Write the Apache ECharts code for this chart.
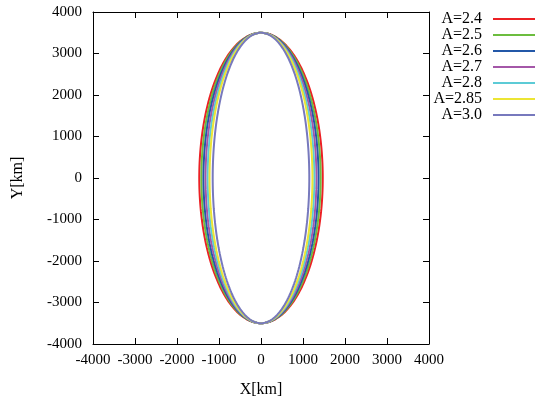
<!DOCTYPE html>
<html>
<head>
<meta charset="utf-8">
<script src="https://cdn.jsdelivr.net/npm/echarts@6/dist/echarts.min.js"></script>
<style>
  html, body { margin: 0; padding: 0; background: #fff; }
  #chart { width: 535px; height: 403px; }
</style>
</head>
<body>
<div id="chart"></div>
<script>
// series: each curve is an ellipse centred at 0,0
const names = ['A=2.4', 'A=2.5', 'A=2.6', 'A=2.7', 'A=2.8', 'A=2.85', 'A=3.0'];
const halfWidthKm = [1470, 1420, 1370, 1320, 1270, 1225, 1150];
const halfHeightKm = [3500, 3500, 3500, 3500, 3500, 3500, 3500];
const colors = ['#ec2024', '#6cbd3f', '#2358a8', '#a457a8', '#5ccbd6', '#ece534', '#7779bd'];
const ticks = [-4000, -3000, -2000, -1000, 0, 1000, 2000, 3000, 4000];

const FONT = 'Liberation Serif';
const STEPS = 240;

const ellipse = (a, b) => {
  let pts = [];
  for (let k = 0; k <= STEPS; k++) {
    let t = (k / STEPS) * Math.PI * 2;
    pts.push([a * Math.sin(t), b * Math.cos(t)]);
  }
  return pts;
};

const axisBase = (extra) => {
  return {
    type: 'value',
    min: ticks[0],
    max: ticks[ticks.length - 1],
    interval: 1000,
    splitLine: { show: false },
    axisLine: { show: true, onZero: false, lineStyle: { color: '#000', width: 1 } },
    axisTick: { show: true, inside: true, length: 6, lineStyle: { color: '#000' } },
    ...extra,
  };
};

const labelStyle = { color: '#000', fontFamily: FONT, fontSize: 15 };

let series = names.map((n, i) => {
  return {
    name: n,
    type: 'line',
    data: ellipse(halfWidthKm[i], halfHeightKm[i]),
    showSymbol: false,
    smooth: false,
    animation: false,
    lineStyle: { color: colors[i], width: 2 },
    itemStyle: { color: colors[i] },
  };
});

let chart = echarts.init(document.getElementById('chart'));
chart.setOption({
  animation: false,
  grid: { left: 93, right: 106, top: 12, bottom: 56 },
  legend: {
    orient: 'vertical',
    right: 0,
    top: 11,
    padding: 0,
    align: 'right',
    icon: 'rect',
    itemWidth: 42,
    itemHeight: 2,
    itemGap: 0,
    textStyle: { ...labelStyle, fontSize: 16, lineHeight: 16, padding: [0, 6, 0, 0] },
    data: names,
  },
  xAxis: [
    axisBase({
      position: 'bottom',
      name: 'X[km]',
      nameLocation: 'middle',
      nameGap: 38,
      nameTextStyle: { ...labelStyle, fontSize: 16 },
      axisLabel: { ...labelStyle, margin: 9, formatter: v => String(v) },
    }),
    axisBase({ position: 'top', axisLabel: { show: false } }),
  ],
  yAxis: [
    axisBase({
      position: 'left',
      name: 'Y[km]',
      nameLocation: 'middle',
      nameGap: 67,
      nameTextStyle: { ...labelStyle, fontSize: 16 },
      axisLabel: { ...labelStyle, margin: 11, formatter: v => String(v) },
    }),
    axisBase({ position: 'right', axisLabel: { show: false } }),
  ],
  series: series,
});
</script>
</body>
</html>
